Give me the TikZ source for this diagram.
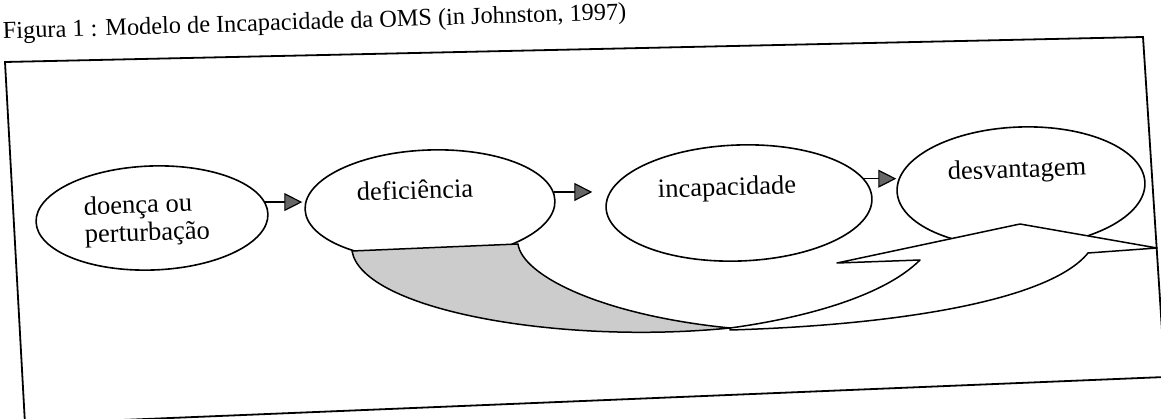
\documentclass[tikz,border=0pt]{standalone}
\usepackage{fontspec}
\setmainfont{Liberation Serif}
\usetikzlibrary{arrows.meta,shapes.geometric}
\begin{document}
\begin{tikzpicture}[x=1pt,y=-1pt,
  ell/.style={draw, line width=1.6pt, ellipse, inner sep=0pt, rotate=2, fill=white},
  lbl/.style={anchor=base west, inner sep=0pt, font=\fontsize{26.5}{28}\selectfont, rotate=2, align=left},
  ttl/.style={anchor=base west, inner sep=0pt, font=\fontsize{24.3}{26}\selectfont, rotate=1.8},
  flow/.style={line width=1.2pt, -{Triangle[length=18pt,width=18pt,fill=black!60]}},
  frame/.style={line width=1.8pt},
  face/.style={draw, line width=1.5pt, fill=white, line join=round},
  back/.style={draw, line width=1.5pt, fill=black!20, line join=round}]
\useasboundingbox (0,0) rectangle (1161,419);
\clip (0,0) rectangle (1161,419);
% title
\node[ttl] (title) at (3,39) {Figura 1 : Modelo de Incapacidade da OMS (in Johnston, 1997)};
% frame
\coordinate (TL) at (5,62);
\coordinate (TR) at (1143,37);
\coordinate (BR) at (1165,377);
\coordinate (BL) at (25,424);
\draw[frame] (TL) -- (TR) -- (BR) -- (BL) -- cycle;
% ellipses
\node[ell, minimum width=232pt, minimum height=104pt] (e1) at (152,218) {};
\node[ell, minimum width=250pt, minimum height=110pt] (e2) at (430,205) {};
\node[ell, minimum width=266pt, minimum height=116pt] (e3) at (739,203) {};
\node[ell, minimum width=248pt, minimum height=120pt] (e4) at (1021,187) {};
% connectors
\draw[flow, shorten >=2pt] (e1.6) -- (e1.6 -| e2.west);
\draw[flow, shorten >=13pt] (e2.4) -- (e2.4 -| e3.west);
\draw[flow, shorten >=0pt] (e3.9) -- (e3.9 -| e4.west);
% big curved arrow: front face
\coordinate (T) at (730,328);
\coordinate (N) at (920,260);
\coordinate (B1) at (837,263);
\coordinate (TIP) at (1020,224);
\coordinate (B2) at (1157,248);
\coordinate (L0) at (1088,253);
\coordinate (T2) at (730,330);
\path[face] (T) .. controls (790,320) and (880,300) .. (N) -- (B1) -- (TIP) -- (B2) -- (L0)
  .. controls (1050,300) and (900,325) .. (T2) -- cycle;
% back (shaded) face
\coordinate (A) at (352,251);
\coordinate (B) at (518,244);
\path[back] (A) -- (B) .. controls (522,275) and (600,315) .. (T)
  .. controls (560,345) and (362,310) .. (A) -- cycle;
% labels
\node[lbl] (t1) at (85,243) {doença ou\\perturbação};
\node[lbl] (t2) at (357,201) {deficiência};
\node[lbl] (t3) at (658,198) {incapacidade};
\node[lbl] (t4) at (948,180) {desvantagem};
\end{tikzpicture}
\end{document}
